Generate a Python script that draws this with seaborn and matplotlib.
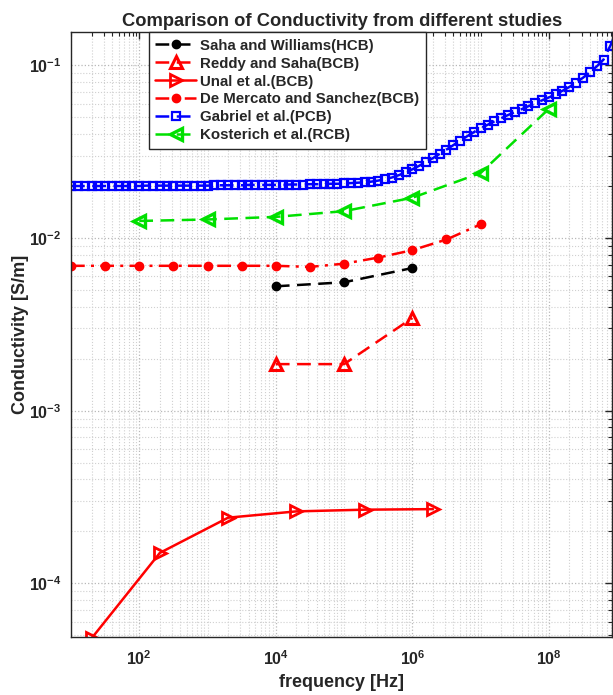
import numpy as np
import pandas as pd
import matplotlib
matplotlib.use("Agg")
import matplotlib.pyplot as plt
from matplotlib.ticker import FixedLocator, LogLocator, FuncFormatter, NullFormatter
import seaborn as sns

sns.set_theme(style="white")
plt.rcParams['font.family'] = ['Liberation Sans', 'DejaVu Sans']
plt.rcParams['mathtext.fontset'] = 'custom'
plt.rcParams['mathtext.rm'] = 'Liberation Sans'
plt.rcParams['mathtext.bf'] = 'Liberation Sans:bold'

# datos
saha_f = [1e4, 1e5, 1e6]
saha_s = [0.00525, 0.00554, 0.0067]

reddy_f = [1e4, 1e5, 1e6]
reddy_s = [0.00186, 0.00186, 0.00344]

unal_f = [20, 200, 2e3, 2e4, 2e5, 2e6]
unal_s = [4.8e-5, 1.5e-4, 2.4e-4, 2.61e-4, 2.67e-4, 2.69e-4]

merc_f = [1e1, 3.16e1, 1e2, 3.16e2, 1e3, 3.16e3, 1e4, 3.16e4, 1e5, 3.16e5, 1e6, 3.16e6, 1e7]
merc_s = [0.0069, 0.0069, 0.0069, 0.0069, 0.0069, 0.0069, 0.0069, 0.0068,
          0.0071, 0.0077, 0.0085, 0.0098, 0.012]

gab_f = [1e1, 1.26e1, 1.58e1, 2e1, 2.51e1, 3.16e1, 3.98e1, 5.01e1, 6.31e1, 7.94e1,
         1e2, 1.26e2, 1.58e2, 2e2, 2.51e2, 3.16e2, 3.98e2, 5.01e2, 6.31e2, 7.94e2,
         1e3, 1.26e3, 1.58e3, 2e3, 2.51e3, 3.16e3, 3.98e3, 5.01e3, 6.31e3, 7.94e3,
         1e4, 1.26e4, 1.58e4, 2e4, 2.51e4, 3.16e4, 3.98e4, 5.01e4, 6.31e4, 7.94e4,
         1e5, 1.26e5, 1.58e5, 2e5, 2.51e5, 3.16e5, 3.98e5, 5.01e5, 6.31e5, 7.94e5,
         1e6, 1.26e6, 1.58e6, 2e6, 2.51e6, 3.16e6, 3.98e6, 5.01e6, 6.31e6, 7.94e6,
         1e7, 1.26e7, 1.58e7, 2e7, 2.51e7, 3.16e7, 3.98e7, 5.01e7, 6.31e7, 7.94e7,
         1e8, 1.26e8, 1.58e8, 2e8, 2.51e8, 3.16e8, 3.98e8, 5.01e8, 6.31e8, 7.94e8,
         1e9]
gab_s = [0.0200, 0.0200, 0.0200, 0.0200, 0.0200, 0.0200, 0.0200, 0.0200, 0.0200, 0.0200,
         0.0200, 0.0201, 0.0201, 0.0201, 0.0201, 0.0201, 0.0201, 0.0201, 0.0201, 0.0201,
         0.0201, 0.0202, 0.0202, 0.0202, 0.0202, 0.0202, 0.0203, 0.0203, 0.0203, 0.0203,
         0.0203, 0.0203, 0.0204, 0.0204, 0.0204, 0.0205, 0.0205, 0.0205, 0.0206, 0.0206,
         0.0207, 0.0208, 0.0209, 0.0210, 0.0212, 0.0215, 0.0219, 0.0224, 0.0231, 0.0240,
         0.0250, 0.0262, 0.0276, 0.0290, 0.0307, 0.0325, 0.0345, 0.0366, 0.0388, 0.0410,
         0.0432, 0.0452, 0.0473, 0.0494, 0.0515, 0.0536, 0.0557, 0.0580, 0.0603, 0.0627,
         0.0652, 0.0680, 0.0712, 0.0750, 0.0795, 0.0848, 0.0910, 0.0985, 0.108, 0.130,
         0.16]

kost_f = [1e2, 1e3, 1e4, 1e5, 1e6, 1e7, 1e8]
kost_s = [0.01255, 0.0128, 0.01325, 0.0143, 0.0171, 0.0238, 0.056]

x_ticks = [1e2, 1e4, 1e6, 1e8]
y_ticks = [1e-4, 1e-3, 1e-2, 1e-1]

DASH = (0, (5.5, 3))
DASHDOT = (0, (5.5, 2.5, 1.2, 2.5))

series = [
    ("Saha and Williams(HCB)", saha_f, saha_s,
     dict(color="black", linestyle=DASH, marker="o", markersize=6, mfc="black", mec="black", mew=1)),
    ("Reddy and Saha(BCB)", reddy_f, reddy_s,
     dict(color="red", linestyle=DASH, marker="^", markersize=9, mfc="none", mec="red", mew=2.2)),
    ("Unal et al.(BCB)", unal_f, unal_s,
     dict(color="red", linestyle="-", marker=">", markersize=9, mfc="none", mec="red", mew=2)),
    ("De Mercato and Sanchez(BCB)", merc_f, merc_s,
     dict(color="red", linestyle=DASHDOT, marker="o", markersize=6, mfc="red", mec="red", mew=1)),
    ("Gabriel et al.(PCB)", gab_f, gab_s,
     dict(color="blue", linestyle=DASH, marker="s", markersize=5.5, mfc="none", mec="blue", mew=1.6)),
    ("Kosterich et al.(RCB)", kost_f, kost_s,
     dict(color="#00e000", linestyle=DASH, marker="<", markersize=9, mfc="none", mec="#00e000", mew=2.4)),
]

fig = plt.figure(figsize=(6.13, 6.95), dpi=100)
ax = fig.add_axes([0.1158, 0.0835, 0.8832, 0.8705])

for name, f, s, style in series:
    df = pd.DataFrame({"f": f, "s": s})
    sns.lineplot(data=df, x="f", y="s", ax=ax, label=name, linewidth=1.8,
                 errorbar=None, **style)

ax.set_xscale("log")
ax.set_yscale("log")
ax.set_xlim(10, 8.5e8)
ax.set_ylim(4.89e-5, 0.156)

fmt = FuncFormatter(lambda v, p: r"$\mathbf{10^{%d}}$" % round(np.log10(v)))
ax.xaxis.set_major_locator(FixedLocator(x_ticks))
ax.xaxis.set_minor_locator(LogLocator(base=10, subs=np.arange(1, 10)))
ax.yaxis.set_major_locator(FixedLocator(y_ticks))
ax.yaxis.set_minor_locator(LogLocator(base=10, subs=np.arange(2, 10)))
ax.xaxis.set_major_formatter(fmt)
ax.yaxis.set_major_formatter(fmt)
ax.xaxis.set_minor_formatter(NullFormatter())
ax.yaxis.set_minor_formatter(NullFormatter())

ax.tick_params(which="both", direction="in", top=True, right=True, color="#262626")
ax.tick_params(which="major", length=5, width=1, labelsize=11.5, pad=7)
ax.tick_params(axis="x", which="major", pad=9)
ax.tick_params(which="minor", length=3, width=0.8)
ax.grid(True, which="major", linestyle=":", color="#b8b8b8", linewidth=0.9)
ax.grid(True, which="minor", linestyle=":", color="#d0d0d0", linewidth=0.8)
ax.set_axisbelow(True)
for sp in ax.spines.values():
    sp.set_color("#262626")
    sp.set_linewidth(1.0)

ax.set_title("Comparison of Conductivity from different studies", fontsize=13.2,
             fontweight="bold", pad=4)
ax.set_xlabel("frequency [Hz]", fontsize=13, fontweight="bold", labelpad=4)
ax.set_ylabel("Conductivity [S/m]", fontsize=13, fontweight="bold", labelpad=0)

leg = ax.legend(loc="upper left", bbox_to_anchor=(0.1434, 1.0),
                prop={"weight": "bold", "size": 10.8}, frameon=True, fancybox=False,
                framealpha=1, edgecolor="#262626", numpoints=1, handlelength=2.7,
                handletextpad=0.3, labelspacing=0.26, borderpad=0.45, borderaxespad=0)
leg.get_frame().set_linewidth(1.0)

fig.savefig("out.png", dpi=100)
